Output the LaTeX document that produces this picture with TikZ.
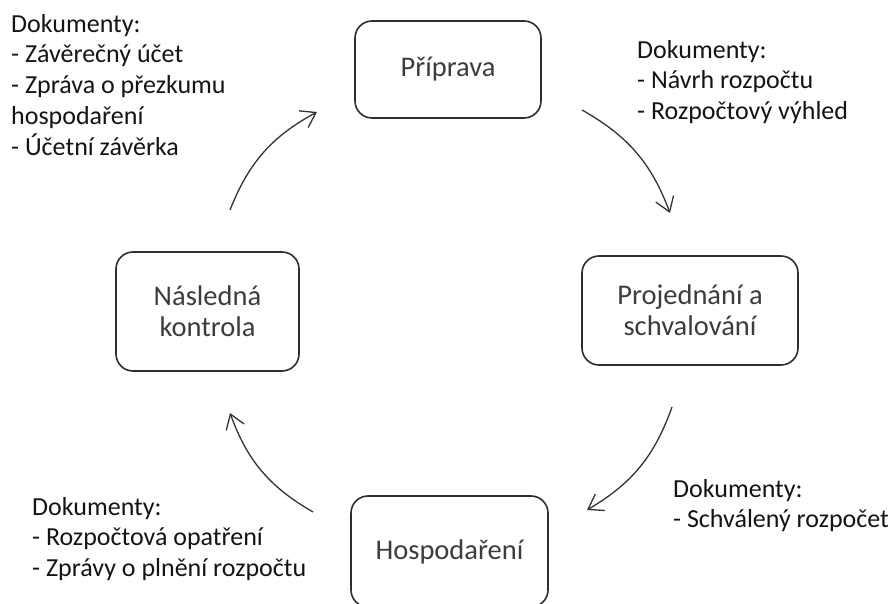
\documentclass[tikz,border=0pt]{standalone}
\usepackage{fontspec}
\setmainfont{Carlito}
\usetikzlibrary{arrows.meta}
\definecolor{boxline}{HTML}{2E2E2E}
\definecolor{boxtext}{HTML}{3C3C3C}
\definecolor{arrowline}{HTML}{333333}
\definecolor{doctext}{HTML}{141414}

\begin{document}
\begin{tikzpicture}[x = 1pt, y = 1pt,
    phase/.style = {draw = boxline, line width = 1.6pt, rounded corners = 17pt, text = boxtext,
                    align = center, inner sep = 0pt, font = \fontsize{28.5}{31}\selectfont},
    docs/.style = {anchor = north west, align = left, inner sep = 0pt, text = doctext,
                   font = \fontsize{26}{30.7}\selectfont},
    cyclearrow/.style = {-{Straight Barb[length = 14pt, width = 19pt]}, draw = arrowline,
                         line width = 1.3pt, bend left = 20}]
              \useasboundingbox (0, 0) rectangle (896, 604);

              % the four phases
              \node[phase, minimum width = 186pt, minimum height = 97pt] (priprava) at (448, 534.5) {Příprava};
              \node[phase, minimum width = 216pt, minimum height = 109pt] (projednani) at (690, 293.5) {Projednání a\\schvalování};
              \node[phase, minimum width = 197pt, minimum height = 111pt] (hospodareni) at (449.5, 52.5) {Hospodaření};
              \node[phase, minimum width = 183pt, minimum height = 119pt] (kontrola) at (207.5, 292.5) {Následná\\kontrola};

              \coordinate (kontrola-out) at (230, 394);
              \coordinate (priprava-in) at (317, 492);
              \coordinate (priprava-out) at (582, 494);
              \coordinate (projednani-in) at (670, 391);
              \coordinate (projednani-out) at (672, 197);
              \coordinate (hospodareni-in) at (587, 94);
              \coordinate (hospodareni-out) at (313, 92);
              \coordinate (kontrola-in) at (230, 191);

              \draw[cyclearrow] (kontrola-out) to (priprava-in);
              \draw[cyclearrow] (priprava-out) to (projednani-in);
              \draw[cyclearrow] (projednani-out) to (hospodareni-in);
              \draw[cyclearrow] (hospodareni-out) to (kontrola-in);

              % documents next to each step
              \node[docs] (docs-kontrola) at (11, 590) {Dokumenty:\\- Závěrečný účet\\- Zpráva o přezkumu\\hospodaření\\- Účetní závěrka};
              \node[docs] (docs-priprava) at (637, 564) {Dokumenty:\\- Návrh rozpočtu\\- Rozpočtový výhled};
              \node[docs] (docs-projednani) at (673, 125) {Dokumenty:\\- Schválený rozpočet};
              \node[docs] (docs-hospodareni) at (32, 107) {Dokumenty:\\- Rozpočtová opatření\\- Zprávy o plnění rozpočtu};
            \end{tikzpicture}
\end{document}
